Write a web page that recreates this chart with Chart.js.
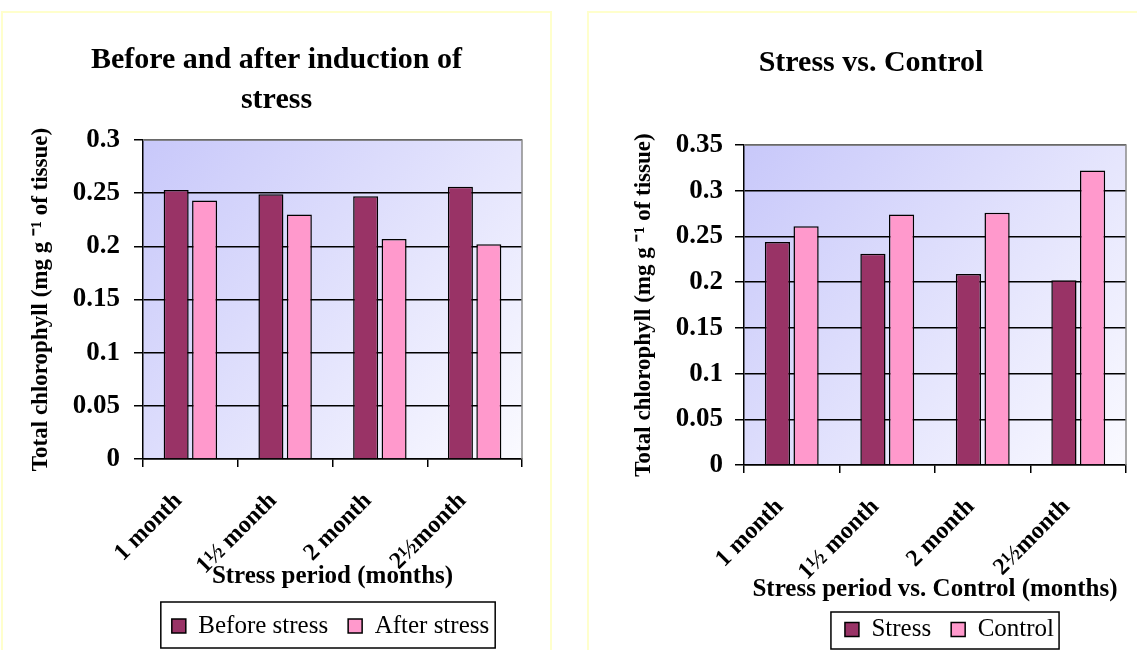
<!DOCTYPE html>
<html lang="en">
<head>
<meta charset="utf-8">
<title>Total chlorophyll under stress</title>
<script src="https://cdn.jsdelivr.net/npm/chart.js@4.4.1/dist/chart.umd.min.js"></script>
<style>
  html, body { margin: 0; padding: 0; background: #ffffff; }
  body { width: 1137px; height: 650px; overflow: hidden; position: relative; }
  .panel { position: absolute; border: 2px solid #ffffcc; }
  #panelA { left: 1px; top: 11px; }
  #panelB { left: 587px; top: 11px; }
  canvas { display: block; }
</style>
</head>
<body>
<div class="panel" id="panelA"><canvas id="chartA" width="547" height="660"></canvas></div>
<div class="panel" id="panelB"><canvas id="chartB" width="564" height="660"></canvas></div>
<script>
// Stress periods on the category axis
const periods = ['1 month', '1½ month', '2 month', '2½month'];

// Total chlorophyll, mg per g of tissue
const beforeStress = [0.253, 0.249, 0.247, 0.256];
const afterStress = [0.243, 0.230, 0.207, 0.202];
const stressValues = [0.244, 0.231, 0.209, 0.202];
const controlValues = [0.261, 0.274, 0.276, 0.322];

// Value axis ranges
const yStep = 0.05;
const yMaxA = 0.3;
const yMaxB = 0.35;

const SERIF = "'Liberation Serif', 'Times New Roman', serif";
const DARK = '#993366';
const PINK = '#ff99cc';

// Plot-area fill (lavender fading to near white) and grey frame on top/right
const plotBackdrop = {
  id: 'plotBackdrop',
  beforeDraw(chart) {
    const { ctx, chartArea: a } = chart;
    const g = ctx.createLinearGradient(a.left, a.top, a.right, a.bottom);
    g.addColorStop(0, '#c8c8fa');
    g.addColorStop(1, '#fafaff');
    ctx.save();
    ctx.fillStyle = g;
    ctx.fillRect(a.left, a.top, a.right - a.left, a.bottom - a.top);
    ctx.restore();
  },
  afterDraw(chart) {
    const { ctx, chartArea: a } = chart;
    ctx.save();
    ctx.strokeStyle = '#8c8c8c';
    ctx.lineWidth = 1.5;
    ctx.beginPath();
    ctx.moveTo(a.left, a.top);
    ctx.lineTo(a.right, a.top);
    ctx.lineTo(a.right, a.bottom);
    ctx.stroke();
    ctx.restore();
  }
};

// Box drawn around the legend entries; optional horizontal nudge of the legend
const legendFrame = {
  id: 'legendFrame',
  afterLayout(chart, args, opts) {
    const lg = chart.legend;
    if (lg && opts.shift) {
      lg.left += opts.shift;
      lg.right += opts.shift;
    }
  },
  afterDraw(chart, args, opts) {
    const boxes = chart.legend && chart.legend.legendHitBoxes;
    if (!boxes || !boxes.length) return;
    const l = Math.min(...boxes.map(b => b.left)) - opts.left;
    const r = Math.max(...boxes.map(b => b.left + b.width)) + opts.right;
    const t = boxes[0].top - opts.top;
    const b = boxes[0].top + boxes[0].height + opts.bottom;
    const ctx = chart.ctx;
    ctx.save();
    ctx.strokeStyle = '#000';
    ctx.lineWidth = 1.5;
    ctx.strokeRect(l, t, r - l, b - t);
    ctx.restore();
  }
};

function makeChart(id, spec) {
  return new Chart(document.getElementById(id), {
    type: 'bar',
    data: {
      labels: periods,
      datasets: spec.series.map(s => ({
        label: s.label,
        data: s.data,
        backgroundColor: s.color,
        borderColor: '#000',
        borderWidth: 1.5,
        categoryPercentage: 0.6,
        barPercentage: 0.88
      }))
    },
    options: {
      responsive: false,
      animation: false,
      events: [],
      layout: { padding: { top: 0, left: 0, right: 0, bottom: spec.padBottom } },
      plugins: {
        title: {
          display: true,
          text: spec.title,
          color: '#000',
          font: { family: SERIF, size: 30, weight: 'bold', lineHeight: 1.333 },
          padding: { top: spec.titleTop, bottom: spec.titleBottom }
        },
        legend: {
          position: 'bottom',
          fullSize: false,
          labels: {
            color: '#000',
            font: { family: SERIF, size: 25 },
            boxWidth: 14,
            boxHeight: 14,
            padding: 20
          }
        },
        tooltip: { enabled: false },
        legendFrame: spec.frame
      },
      scales: {
        x: {
          grid: { display: true, drawOnChartArea: false, drawTicks: true, tickLength: 8, color: '#000', lineWidth: 1.5, offset: true },
          border: { display: true, color: '#000', width: 1.5 },
          ticks: {
            color: '#000',
            font: { family: SERIF, size: 24, weight: 'bold' },
            minRotation: 45,
            maxRotation: 45,
            autoSkip: false,
            padding: 20,
            labelOffset: -12
          },
          title: {
            display: true,
            text: spec.xTitle,
            color: '#000',
            font: { family: SERIF, size: 25, weight: 'bold', lineHeight: 1.2 },
            padding: { top: 0, bottom: spec.xTitlePad }
          },
          afterFit(s) { s.height = spec.xHeight; }
        },
        y: {
          min: 0,
          max: spec.yMax,
          ticks: {
            stepSize: yStep,
            color: '#000',
            padding: spec.yTickPad,
            font: { family: SERIF, size: 27, weight: 'bold' },
            callback: v => String(Math.round(v * 100) / 100)
          },
          grid: { color: '#000', tickColor: '#000', lineWidth: 1.5, tickLength: 9 },
          border: { display: true, color: '#000', width: 1.5 },
          title: {
            display: true,
            text: 'Total chlorophyll (mg g ⁻¹ of tissue)',
            color: '#000',
            font: { family: SERIF, size: 23, weight: 'bold', lineHeight: 1.2 },
            padding: { top: spec.yTitlePad, bottom: 0 }
          },
          afterFit(s) { s.width = spec.yWidth; }
        },
        gutter: {
          type: 'linear',
          position: 'right',
          display: true,
          ticks: { display: false },
          grid: { display: false },
          border: { display: false },
          afterFit(s) { s.width = spec.rightGap; }
        }
      }
    },
    plugins: [plotBackdrop, legendFrame]
  });
}

makeChart('chartA', {
  title: ['Before and after induction of', 'stress'],
  xTitle: 'Stress period (months)',
  series: [
    { label: 'Before stress', data: beforeStress, color: DARK },
    { label: 'After stress', data: afterStress, color: PINK }
  ],
  yMax: yMaxA,
  titleTop: 27, titleBottom: 20,
  padBottom: 24.5, xHeight: 134.5, xTitlePad: 1.5,
  yWidth: 140, rightGap: 28, yTickPad: 14, yTitlePad: 24.2,
  frame: { left: 11, right: 6, top: 11.5, bottom: 9.5, shift: -2 }
});

makeChart('chartB', {
  title: 'Stress vs. Control',
  xTitle: 'Stress period vs. Control (months)',
  series: [
    { label: 'Stress', data: stressValues, color: DARK },
    { label: 'Control', data: controlValues, color: PINK }
  ],
  yMax: yMaxB,
  titleTop: 30, titleBottom: 62,
  padBottom: 21, xHeight: 132, xTitlePad: -8,
  yWidth: 155, rightGap: 27, yTickPad: 12, yTitlePad: 41.2,
  frame: { left: 14, right: 5, top: 5, bottom: 7, shift: 14.5 }
});
</script>
</body>
</html>
